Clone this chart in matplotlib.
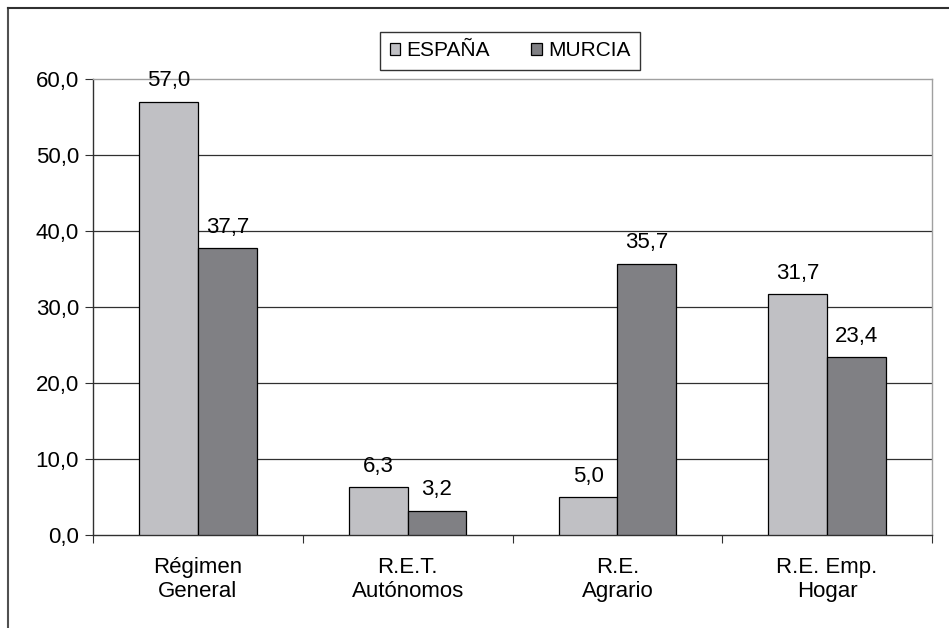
import matplotlib
matplotlib.use("Agg")
import matplotlib.pyplot as plt
import numpy as np
from matplotlib.lines import Line2D

categories = ["Régimen\nGeneral", "R.E.T.\nAutónomos", "R.E.\nAgrario", "R.E. Emp.\nHogar"]
espana = [57.0, 6.3, 5.0, 31.7]
murcia = [37.7, 3.2, 35.7, 23.4]
yticks = [0, 10, 20, 30, 40, 50, 60]

plt.rcParams['font.family'] = ['Liberation Sans', 'DejaVu Sans']

fig = plt.figure(figsize=(9.49, 6.28), dpi=100)
ax = fig.add_axes([93 / 949, 1 - 535 / 628, (932 - 93) / 949, (535 - 79) / 628])

x = np.arange(len(categories))
w = 0.28
c_es = "#c0c0c4"
c_mu = "#808084"
b1 = ax.bar(x - w / 2, espana, w, color=c_es, edgecolor="black", linewidth=0.9, label="ESPAÑA", zorder=3)
b2 = ax.bar(x + w / 2, murcia, w, color=c_mu, edgecolor="black", linewidth=0.9, label="MURCIA", zorder=3)

def fmt(v):
    return f"{v:.1f}".replace(".", ",")

FS = 16
for bars, vals in ((b1, espana), (b2, murcia)):
    for r, v in zip(bars, vals):
        ax.annotate(fmt(v), (r.get_x() + r.get_width() / 2, v), xytext=(0, 7.5),
                    textcoords="offset points", ha="center", va="bottom", fontsize=FS)

ax.set_xlim(-0.5, len(categories) - 0.5)
ax.set_ylim(0, 60)
ax.set_yticks(yticks)
ax.set_yticklabels([fmt(v) for v in yticks], fontsize=FS)
for v in yticks[1:-1]:
    ax.axhline(v, color="#303030", linewidth=0.9, zorder=1)

ax.set_xticks(np.arange(len(categories) + 1) - 0.5, minor=False)
ax.set_xticklabels([])
ax.set_xticks(x, minor=True)
ax.set_xticklabels(categories, minor=True, fontsize=FS, linespacing=1.2)
ax.tick_params(axis="x", which="major", length=6, direction="out", color="#303030")
ax.tick_params(axis="x", which="minor", length=0, pad=16)
ax.tick_params(axis="y", length=6, direction="out", color="#303030", pad=4)

ax.spines["left"].set_color("#303030")
ax.spines["bottom"].set_color("#303030")
ax.spines["top"].set_color("#a0a0a0")
ax.spines["right"].set_color("#a0a0a0")
for s in ax.spines.values():
    s.set_linewidth(1.0)

leg = fig.legend(handles=[b1, b2], loc="center", bbox_to_anchor=(510 / 949, 1 - 51 / 628),
                 ncol=2, frameon=True, fancybox=False, fontsize=15, handlelength=0.5,
                 handleheight=0.5, handletextpad=0.3, columnspacing=2.0, borderpad=0.45,
                 borderaxespad=0)
leg.get_frame().set_edgecolor("black")
leg.get_frame().set_linewidth(1.0)

fig.add_artist(Line2D([7.5 / 949, 7.5 / 949], [0, 1 - 8 / 628], color="#505050", linewidth=1.5, transform=fig.transFigure))
fig.add_artist(Line2D([7.5 / 949, 1], [1 - 8 / 628, 1 - 8 / 628], color="#303030", linewidth=1.5, transform=fig.transFigure))

fig.savefig("out.png", dpi=100)
